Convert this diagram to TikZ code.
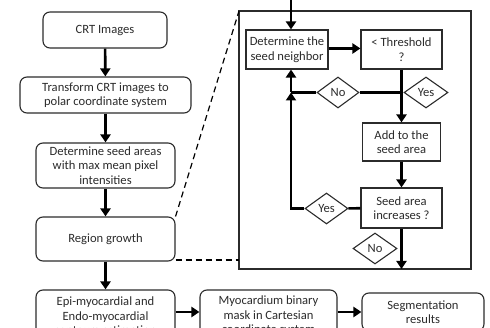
\documentclass[tikz,border=0pt]{standalone}
\usepackage{fontspec}
\setmainfont{Carlito}
\usetikzlibrary{arrows.meta,shapes.geometric}

\definecolor{trait}{HTML}{2B2B2B}

\tikzset{etape/.style = {draw = trait, line width = 1.1pt, rounded corners = #1,
                         align = center, text = trait, inner sep = 1pt,
                         font = \fontsize{12.6}{14.5}\selectfont},
         etape/.default = 7pt,
         boite/.style = {etape = 0pt},
         choix/.style = {diamond, draw = trait, line width = 1.1pt, inner sep = 0pt,
                         text = trait, font = \fontsize{12.6}{14.5}\selectfont},
         fleche/.style = {line width = 2.6pt, -{Triangle[length = 8pt, width = 10pt]}},
         trait/.style = {line width = 2.6pt},
         tirets/.style = {line width = 1.2pt, dash pattern = on 6pt off 4pt}
        }

\begin{document}
\begin{tikzpicture}[x = 1pt, y = -1pt]
  \useasboundingbox (0,0) rectangle (490,328);
  \clip (0,0) rectangle (490,328);

  % main column
  \node[etape, minimum width = 124pt, minimum height = 36pt] (crt)    at (105,30)    {CRT Images};
  \node[etape, minimum width = 171pt, minimum height = 36pt] (polar)  at (105.5,95)  {Transform CRT images to\\polar coordinate system};
  \node[etape, minimum width = 139pt, minimum height = 45pt] (seed)   at (105.5,165.5) {Determine seed areas\\with max mean pixel\\intensities};
  \node[etape, minimum width = 139pt, minimum height = 44pt] (growth) at (105.5,239) {Region growth};
  \node[etape, minimum width = 139pt, minimum height = 52pt] (epi)    at (105.5,316) {Epi-myocardial and\\Endo-myocardial\\contours estimation};
  \node[etape, minimum width = 137pt, minimum height = 52pt] (mask)   at (268.5,316) {Myocardium binary\\mask in Cartesian\\coordinate system};
  \node[etape, minimum width = 122pt, minimum height = 38pt] (seg)    at (423,312)   {Segmentation\\results};

  \draw[fleche] (crt) -- (polar);
  \draw[fleche] (polar) -- (seed);
  \draw[fleche] (seed) -- (growth);
  \draw[fleche] (growth) -- (epi);
  \draw[fleche] (epi.east |- 0,312) -- (mask.west |- 0,312);
  \draw[fleche] (mask.east |- 0,312) -- (seg.west |- 0,312);

  % region growth detail
  \draw[draw = trait, line width = 1.1pt] (239,11) rectangle (471,269);
  \coordinate (cadreNO) at (239,11);
  \coordinate (cadreO)  at (239,260);
  \draw[tirets] (growth.north east) -- (cadreNO);
  \draw[tirets] (growth.east |- cadreO) -- (cadreO);

  \node[boite, minimum width = 82pt, minimum height = 39pt] (voisin) at (287,49.5)  {Determine the\\seed neighbor};
  \node[boite, minimum width = 81pt, minimum height = 39pt] (seuil)  at (401.5,49.5) {< Threshold\\?};
  \node[boite, minimum width = 78pt, minimum height = 38pt] (ajout)  at (401.5,142) {Add to the\\seed area};
  \node[boite, minimum width = 81pt, minimum height = 40pt] (hausse) at (401.5,208) {Seed area\\increases ?};

  \node[choix, minimum width = 42pt, minimum height = 31pt] (non1) at (338,92.5)  {No};
  \node[choix, minimum width = 44pt, minimum height = 31pt] (oui1) at (426,92.5)  {Yes};
  \node[choix, minimum width = 43pt, minimum height = 31pt] (oui2) at (326.5,208.5) {Yes};
  \node[choix, minimum width = 44pt, minimum height = 31pt] (non2) at (375,248.5) {No};

  \coordinate (entree) at (291,0);
  \coordinate (retour) at (291,92.5);
  \coordinate (boucle) at (291,208.5);
  \coordinate (sortie) at (401.5,269);

  \draw[fleche] (entree) -- (entree |- voisin.north);
  \draw[fleche] (voisin.east |- 0,48.5) -- (seuil.west |- 0,48.5);
  \draw[fleche] (seuil) -- (ajout);
  \draw[trait] (non1) -- (seuil.south |- non1);
  \draw[trait] (non1) -- (retour);
  \draw[fleche] (retour) -- (retour |- voisin.south);
  \draw[fleche] (ajout) -- (hausse);
  \draw[trait] (hausse) -- (oui2);
  \draw[fleche] (oui2) -- (boucle) -- (retour);
  \draw[fleche] (hausse) -- (sortie);
\end{tikzpicture}
\end{document}
